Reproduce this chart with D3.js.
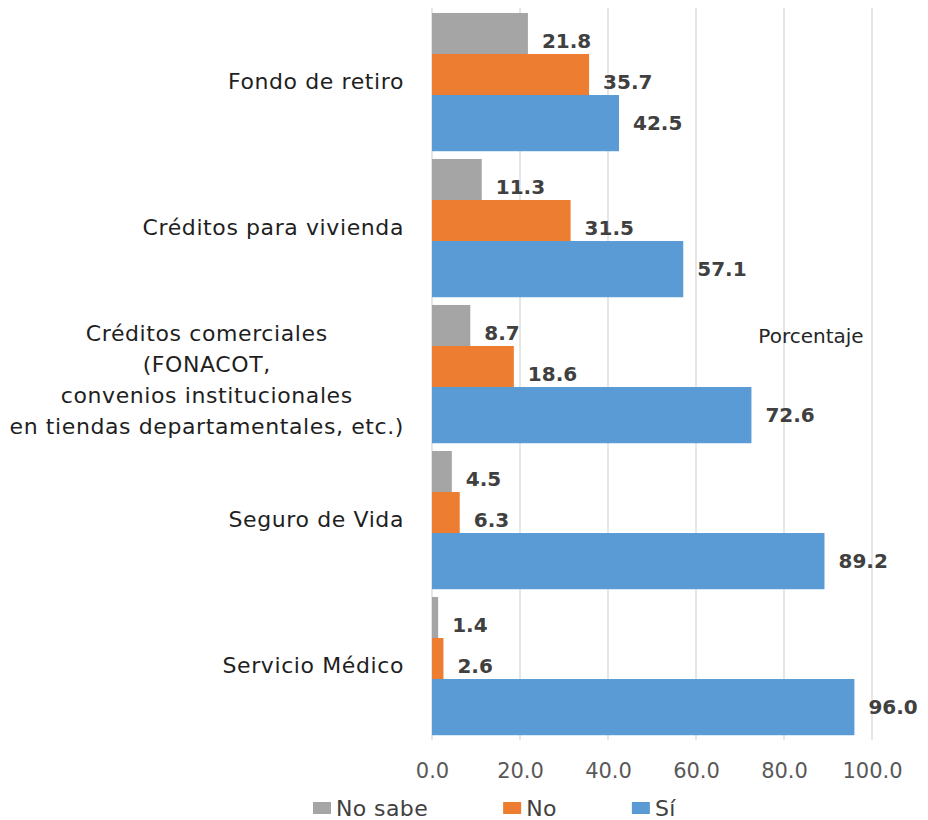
<!DOCTYPE html>
<html>
<head>
<meta charset="utf-8">
<script src="https://cdn.jsdelivr.net/npm/d3@7/dist/d3.min.js"></script>
<style>
  html, body { margin: 0; padding: 0; background: #fff; }
  svg { display: block; }
</style>
</head>
<body>
<svg id="chart" width="928" height="820"></svg>
<script>
// ---- Data ----
const categories = ["Fondo de retiro", "Créditos para vivienda", "Créditos comerciales", "Seguro de Vida", "Servicio Médico"];
const categoryLines = [
  ["Fondo de retiro"],
  ["Créditos para vivienda"],
  ["Créditos comerciales", "(FONACOT,", "convenios institucionales", "en tiendas departamentales, etc.)"],
  ["Seguro de Vida"],
  ["Servicio Médico"]
];
const seriesNames = ["No sabe", "No", "Sí"];
const noSabe = [21.8, 11.3, 8.7, 4.5, 1.4];
const no = [35.7, 31.5, 18.6, 6.3, 2.6];
const si = [42.5, 57.1, 72.6, 89.2, 96.0];
const tickValues = [0, 20, 40, 60, 80, 100];
const colors = ["#A5A5A5", "#ED7D31", "#5B9BD5"];
const axisTitle = "Porcentaje";

const seriesValues = [noSabe, no, si];

// ---- Layout ----
const svg = d3.select("#chart");
const x = d3.scaleLinear().domain([0, 100]).range([432, 872]);
const y = d3.scaleBand().domain(categories).range([8, 738]).padding(0);
const bw = y.bandwidth();
const barH = bw * 0.385;
const offset = d3.scaleLinear().domain([0, 2]).range([bw * 0.034, bw * 0.034 + bw * 0.562]);

// gridlines
svg.append("g").selectAll("line").data(tickValues).join("line")
  .attr("x1", d => x(d)).attr("x2", d => x(d))
  .attr("y1", 8).attr("y2", 740)
  .attr("stroke", "#e6e6e6").attr("stroke-width", 2);

// bars
seriesValues.forEach((vals, si_) => {
  const g = svg.append("g");
  g.selectAll("rect").data(vals).join("rect")
    .attr("x", x(0))
    .attr("y", (d, i) => y(categories[i]) + offset(si_))
    .attr("width", d => x(d) - x(0))
    .attr("height", barH)
    .attr("fill", colors[si_]);
});

// value labels
seriesValues.forEach((vals, si_) => {
  svg.append("g").selectAll("text").data(vals).join("text")
    .attr("x", d => x(d) + 14)
    .attr("y", (d, i) => y(categories[i]) + offset(si_) + barH / 2)
    .attr("dy", "0.36em")
    .attr("font-family", "DejaVu Sans, sans-serif")
    .attr("font-weight", "bold")
    .attr("font-size", 20)
    .attr("fill", "#404040")
    .text(d => d3.format(".1f")(d));
});

// category labels
const labelRight = 404;
categoryLines.forEach((lines, i) => {
  const cy = y(categories[i]) + bw / 2 + (lines.length > 1 ? 7 : 0);
  const lh = 31;
  const g = svg.append("g");
  const texts = g.selectAll("text").data(lines).join("text")
    .attr("y", (d, j) => cy + (j - (lines.length - 1) / 2) * lh)
    .attr("dy", "0.36em")
    .attr("font-family", "DejaVu Sans, sans-serif")
    .attr("font-size", 22)
    .attr("letter-spacing", 0.6)
    .attr("fill", "#1f1f1f")
    .text(d => d);
  let maxW = 0;
  texts.each(function () { maxW = Math.max(maxW, this.getComputedTextLength()); });
  texts.attr("text-anchor", "middle").attr("x", labelRight - maxW / 2);
});

// x axis
const axis = d3.axisBottom(x).tickValues(tickValues).tickSize(0).tickPadding(0)
  .tickFormat(d3.format(".1f"));
const ag = svg.append("g").attr("transform", "translate(0,770)").call(axis);
ag.select(".domain").remove();
ag.selectAll("text")
  .attr("dy", "0.36em")
  .attr("y", 0)
  .attr("font-family", "DejaVu Sans, sans-serif")
  .attr("font-size", 21)
  .attr("fill", "#595959");

// axis title
svg.append("text")
  .attr("x", 811).attr("y", 336).attr("dy", "0.36em")
  .attr("text-anchor", "middle")
  .attr("font-family", "DejaVu Sans, sans-serif")
  .attr("font-size", 20)
  .attr("fill", "#262626")
  .text(axisTitle);

// legend
const legend = svg.append("g");
let lx = 313;
seriesNames.forEach((name, i) => {
  legend.append("rect").attr("x", lx).attr("y", 802).attr("width", 18).attr("height", 12).attr("fill", colors[i]);
  const t = legend.append("text")
    .attr("x", lx + 23).attr("y", 808).attr("dy", "0.36em")
    .attr("font-family", "DejaVu Sans, sans-serif")
    .attr("font-size", 22)
    .attr("letter-spacing", 0.4)
    .attr("fill", "#404040")
    .text(name);
  lx = lx + 23 + t.node().getComputedTextLength() + 75;
});
</script>
</body>
</html>
